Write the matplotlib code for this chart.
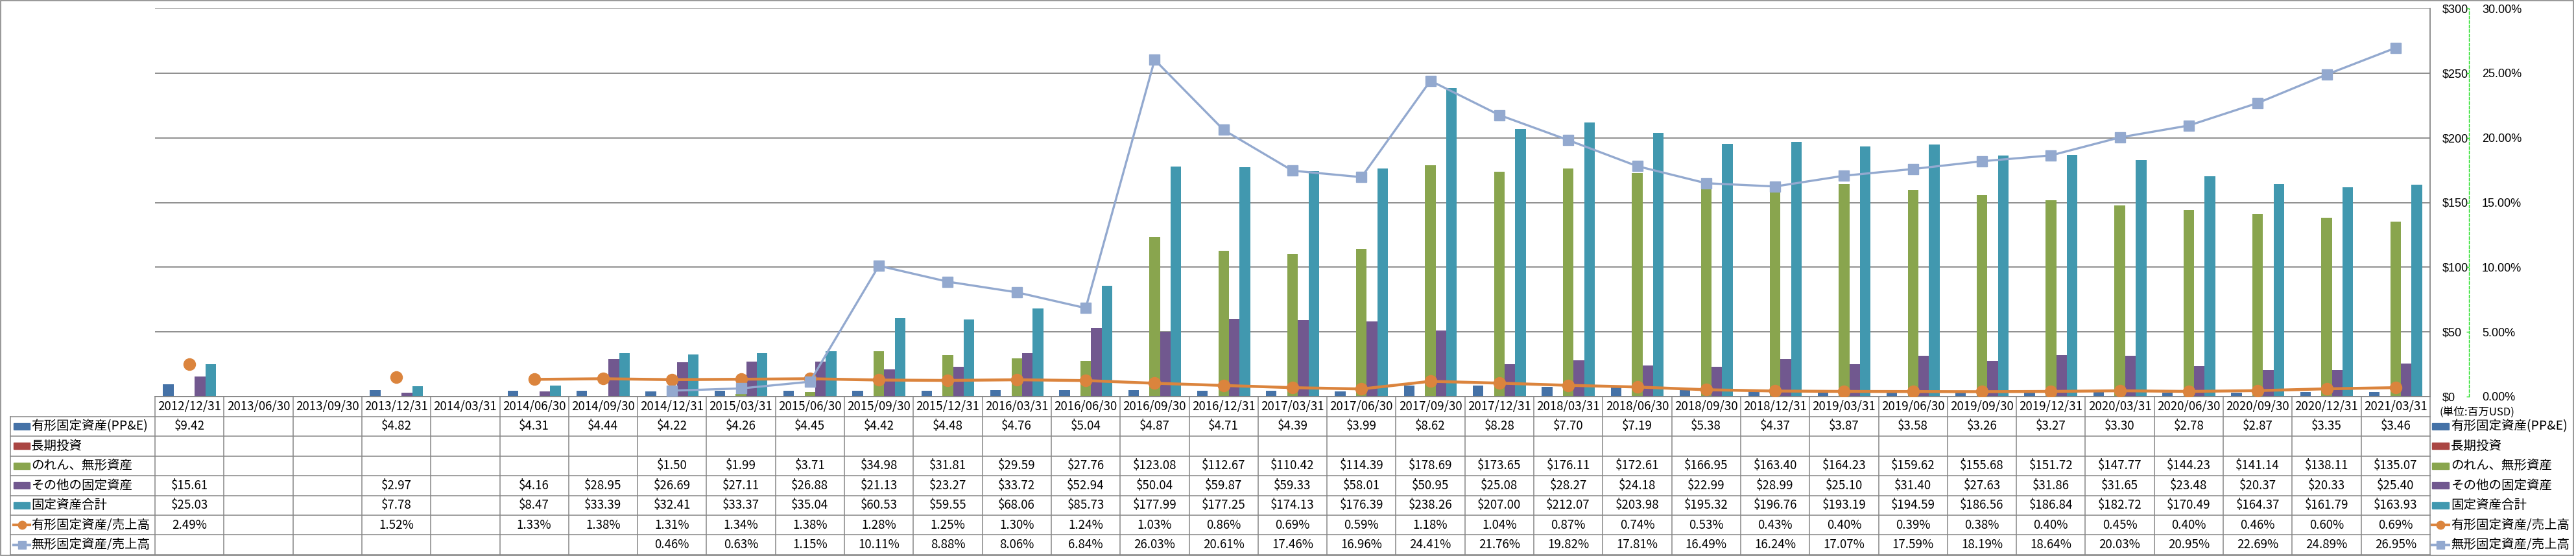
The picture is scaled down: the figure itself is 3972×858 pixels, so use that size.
import matplotlib
matplotlib.use('Agg')
import matplotlib.pyplot as plt
import numpy as np
from matplotlib.patches import Rectangle
from matplotlib.lines import Line2D

plt.rcParams['font.family'] = ['Noto Sans CJK JP', 'DejaVu Sans']

nan = np.nan
dates = ['2012/12/31', '2013/06/30', '2013/09/30', '2013/12/31', '2014/03/31', '2014/06/30',
         '2014/09/30', '2014/12/31', '2015/03/31', '2015/06/30', '2015/09/30', '2015/12/31',
         '2016/03/31', '2016/06/30', '2016/09/30', '2016/12/31', '2017/03/31', '2017/06/30',
         '2017/09/30', '2017/12/31', '2018/03/31', '2018/06/30', '2018/09/30', '2018/12/31',
         '2019/03/31', '2019/06/30', '2019/09/30', '2019/12/31', '2020/03/31', '2020/06/30',
         '2020/09/30', '2020/12/31', '2021/03/31']
ppe = [9.42, nan, nan, 4.82, nan, 4.31, 4.44, 4.22, 4.26, 4.45, 4.42, 4.48, 4.76, 5.04, 4.87,
       4.71, 4.39, 3.99, 8.62, 8.28, 7.70, 7.19, 5.38, 4.37, 3.87, 3.58, 3.26, 3.27, 3.30, 2.78,
       2.87, 3.35, 3.46]
lt_invest = [nan] * 33
goodwill = [nan, nan, nan, nan, nan, nan, nan, 1.50, 1.99, 3.71, 34.98, 31.81, 29.59, 27.76,
            123.08, 112.67, 110.42, 114.39, 178.69, 173.65, 176.11, 172.61, 166.95, 163.40,
            164.23, 159.62, 155.68, 151.72, 147.77, 144.23, 141.14, 138.11, 135.07]
other = [15.61, nan, nan, 2.97, nan, 4.16, 28.95, 26.69, 27.11, 26.88, 21.13, 23.27, 33.72,
         52.94, 50.04, 59.87, 59.33, 58.01, 50.95, 25.08, 28.27, 24.18, 22.99, 28.99, 25.10,
         31.40, 27.63, 31.86, 31.65, 23.48, 20.37, 20.33, 25.40]
total = [25.03, nan, nan, 7.78, nan, 8.47, 33.39, 32.41, 33.37, 35.04, 60.53, 59.55, 68.06,
         85.73, 177.99, 177.25, 174.13, 176.39, 238.26, 207.00, 212.07, 203.98, 195.32, 196.76,
         193.19, 194.59, 186.56, 186.84, 182.72, 170.49, 164.37, 161.79, 163.93]
ppe_ratio = [2.49, nan, nan, 1.52, nan, 1.33, 1.38, 1.31, 1.34, 1.38, 1.28, 1.25, 1.30, 1.24,
             1.03, 0.86, 0.69, 0.59, 1.18, 1.04, 0.87, 0.74, 0.53, 0.43, 0.40, 0.39, 0.38, 0.40,
             0.45, 0.40, 0.46, 0.60, 0.69]
intang_ratio = [nan, nan, nan, nan, nan, nan, nan, 0.46, 0.63, 1.15, 10.11, 8.88, 8.06, 6.84,
                26.03, 20.61, 17.46, 16.96, 24.41, 21.76, 19.82, 17.81, 16.49, 16.24, 17.07,
                17.59, 18.19, 18.64, 20.03, 20.95, 22.69, 24.89, 26.95]

bar_names = ['有形固定資産(PP&E)', '長期投資', 'のれん、無形資産', 'その他の固定資産', '固定資産合計']
bar_data = [ppe, lt_invest, goodwill, other, total]
bar_colors = ['#4572A7', '#AA4643', '#89A54E', '#71588F', '#4198AF']
line_names = ['有形固定資産/売上高', '無形固定資産/売上高']
line_data = [ppe_ratio, intang_ratio]
line_colors = ['#DB843D', '#93A9CF']
line_markers = ['o', 's']
y_ticks = [0, 50, 100, 150, 200, 250, 300]
pct_ticks = [0, 5, 10, 15, 20, 25, 30]

W, H = 3973, 858
fig = plt.figure(figsize=(W / 100, H / 100), dpi=100)

PL, PR, PT, PB, TB, LC = 239, 3747, 13, 612, 856, 16
def fx(p): return p / W
def fy(p): return 1 - p / H
PX2PT = 0.72

GRAY = '#868686'
n = len(dates)
x = np.arange(n)
colw = (PR - PL) / n

ax = fig.add_axes([fx(PL), fy(PB), fx(PR) - fx(PL), fy(PT) - fy(PB)])
ax2 = ax.twinx()

w = 1 / 6.5
for k, (vals, c) in enumerate(zip(bar_data, bar_colors)):
    ax.bar(x + (k - 2) * w, np.array(vals, dtype=float), width=w, color=c, zorder=2)

ax.set_xlim(-0.5, n - 0.5)
ax.set_ylim(0, 300)
ax.set_yticks(y_ticks)
ax.set_yticklabels([f'${v}' for v in y_ticks])
ax.yaxis.grid(True, color=GRAY, lw=1.3)
ax.set_axisbelow(True)
ax.set_xticks([])
ax.tick_params(axis='y', left=False, right=False, labelleft=False, labelright=True,
               length=0, pad=(3766 - PR) * PX2PT, labelsize=13,
               labelfontfamily='Liberation Sans')
for s in ['top', 'left']:
    ax.spines[s].set_visible(False)
ax.spines['bottom'].set_color(GRAY)
ax.spines['bottom'].set_linewidth(1.3)
ax.spines['right'].set_color(GRAY)
ax.spines['right'].set_linewidth(1.3)

for vals, c, m in zip(line_data, line_colors, line_markers):
    ax2.plot(x, np.array(vals, dtype=float) / 100, color=c, lw=3.2 if m == 'o' else 2.4,
             marker=m, markersize=13 if m == 'o' else 12, markeredgecolor=c, zorder=3)
ax2.set_ylim(0, 0.30)
ax2.set_yticks([v / 100 for v in pct_ticks])
ax2.set_yticklabels([f'{v:.2f}%' for v in pct_ticks])
for s in ['top', 'left', 'bottom']:
    ax2.spines[s].set_visible(False)
sp = ax2.spines['right']
sp.set_position(('axes', (3807 - PL) / (PR - PL)))
sp.set_color('#22DD22')
sp.set_linestyle((0, (3, 2)))
sp.set_linewidth(1.0)
ax2.tick_params(axis='y', direction='in', length=3, color='#22DD22', pad=(3827 - 3807) * PX2PT,
                width=1, labelsize=13, labelfontfamily='Liberation Sans', labelcolor='black')
ax.set_zorder(1)
ax2.set_zorder(2)
ax.patch.set_visible(False)

# data table
tax = fig.add_axes([fx(PL), fy(TB), fx(PR) - fx(PL), fy(PB) - fy(TB)])
tax.set_xlim(-0.5, n - 0.5)
tax.set_ylim(8, 0)
tax.axis('off')
xlc = -0.5 - (PL - LC) / colw
lkw = dict(color=GRAY, lw=1.1, clip_on=False)
for i in range(n + 1):
    tax.plot([-0.5 + i, -0.5 + i], [0, 8], **lkw)
for r in range(1, 9):
    tax.plot([xlc, n - 0.5], [r, r], **lkw)
tax.plot([xlc, xlc], [1, 8], **lkw)

for i, d in enumerate(dates):
    tax.text(i, 0.5, d, ha='center', va='center', fontsize=13.5)

rows = bar_data + line_data
for r, vals in enumerate(rows):
    for i, v in enumerate(vals):
        if np.isnan(v):
            continue
        s = f'${v:.2f}' if r < 5 else f'{v:.2f}%'
        tax.text(i, r + 1.5, s, ha='center', va='center', fontsize=13.5)

def px2x(p):
    return -0.5 + (p - PL) / colw

names = bar_names + line_names
for side_x0, side_x1, tx in [(px2x(21), px2x(46), px2x(48)), (px2x(3750), px2x(3776), px2x(3779))]:
    for r, nm in enumerate(names):
        yc = r + 1.5
        if r < 5:
            tax.add_patch(Rectangle((side_x0, yc - 0.17), side_x1 - side_x0, 0.34,
                                    color=bar_colors[r], clip_on=False))
        else:
            c = line_colors[r - 5]
            tax.add_line(Line2D([side_x0, side_x1], [yc, yc], color=c, lw=3, clip_on=False))
            tax.add_line(Line2D([(side_x0 + side_x1) / 2], [yc], color=c, marker=line_markers[r - 5],
                                markersize=9, clip_on=False))
        tax.text(tx, yc, nm, ha='left', va='center', fontsize=14)

fig.text(fx(3762), fy(636), '(単位:百万USD)', ha='left', va='center', fontsize=12)

fig.add_artist(Rectangle((fx(1), fy(857)), fx(3968) - fx(1), fy(1) - fy(857),
                         fill=False, edgecolor=GRAY, lw=1.2, transform=fig.transFigure))

fig.savefig('out.png', dpi=100)
